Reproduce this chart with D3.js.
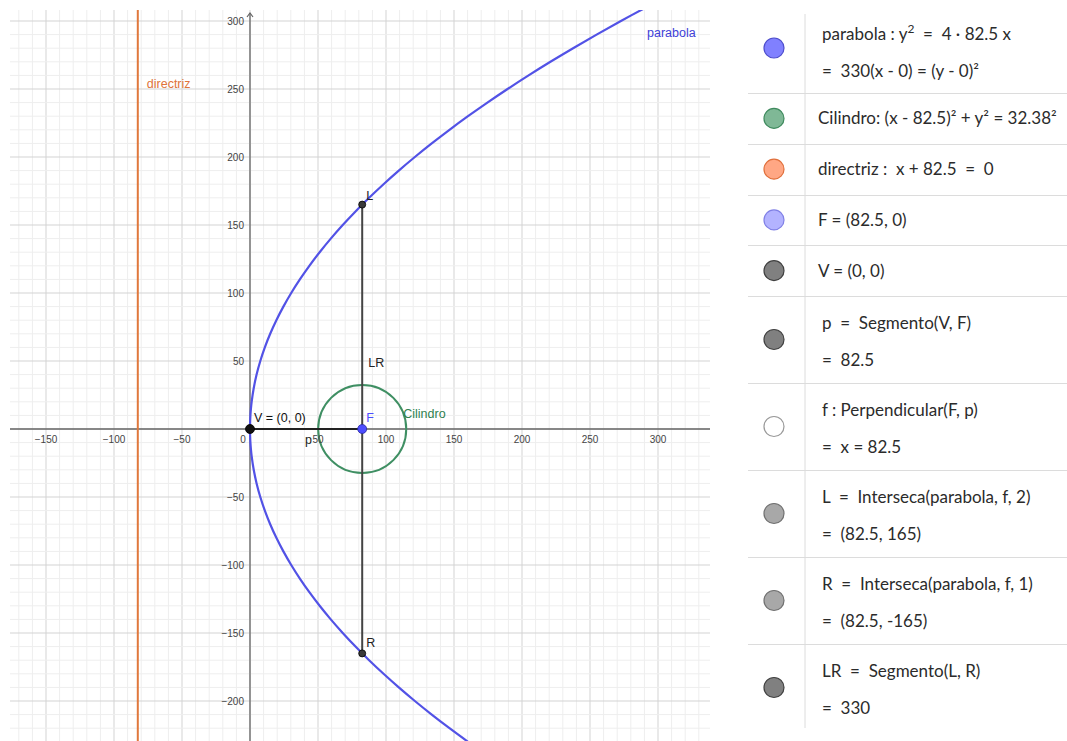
<!DOCTYPE html>
<html>
<head>
<meta charset="utf-8">
<script src="https://cdn.jsdelivr.net/npm/d3@7"></script>
<style>
  body { margin: 0; background: #fff; }
  svg { display: block; }
  .tick-label { font-family: "Liberation Sans", Arial, sans-serif; font-size: 10px; fill: #444; }
  .obj-label { font-family: "Liberation Sans", Arial, sans-serif; font-size: 12.5px; }
  .alg { font-family: "Lato", "DejaVu Sans", sans-serif; font-size: 17px; fill: #2b2b2b; }
</style>
</head>
<body>
<svg id="chart" width="1067" height="741"></svg>
<script>
// Construction values
const focal = 82.5;            // p
const cylinderRadius = 32.38;
const xTicks = [-150, -100, -50, 0, 50, 100, 150, 200, 250, 300];
const yTicks = [-200, -150, -100, -50, 50, 100, 150, 200, 250, 300];
const parabolaYs = [-230, -220, -210, -200, -190, -180, -170, -160, -150, -140, -130, -120, -110, -100,
  -90, -80, -70, -60, -50, -40, -30, -20, -15, -10, -6, -3, 0, 3, 6, 10, 15, 20, 30, 40, 50, 60, 70, 80, 90,
  100, 110, 120, 130, 140, 150, 160, 170, 180, 190, 200, 210, 220, 230, 240, 250, 260, 270, 280, 290, 300, 310];

// Algebra view rows: colour dot + text lines (\u00a0 keeps the wide spacing round "=")
// a "^" marks a raised exponent: text before it, exponent, text after it
const S = '\u00a0';
const algebraRows = [
  { fill: '#8080ff', stroke: '#4d4dcc', lines: [`parabola : y^2^${S}${S}=${S}${S}4 · 82.5 x`, `=${S}${S}330(x - 0) = (y - 0)²`] },
  { fill: '#7fb896', stroke: '#3f8a5e', lines: ['Cilindro: (x - 82.5)² + y² = 32.38²'] },
  { fill: '#ffa784', stroke: '#e0703c', lines: [`directriz :${S}${S}x + 82.5${S}${S}=${S}${S}0`] },
  { fill: '#b3b3ff', stroke: '#8080e6', lines: ['F = (82.5, 0)'] },
  { fill: '#808080', stroke: '#404040', lines: ['V = (0, 0)'] },
  { fill: '#808080', stroke: '#404040', lines: [`p${S}${S}=${S}${S}Segmento(V, F)`, `=${S}${S}82.5`] },
  { fill: '#ffffff', stroke: '#999999', lines: ['f : Perpendicular(F, p)', `=${S}${S}x = 82.5`] },
  { fill: '#a8a8a8', stroke: '#707070', lines: [`L${S}${S}=${S}${S}Interseca(parabola, f, 2)`, `=${S}${S}(82.5, 165)`] },
  { fill: '#a8a8a8', stroke: '#707070', lines: [`R${S}${S}=${S}${S}Interseca(parabola, f, 1)`, `=${S}${S}(82.5, -165)`] },
  { fill: '#808080', stroke: '#404040', lines: [`LR${S}${S}=${S}${S}Segmento(L, R)`, `=${S}${S}330`] }
];

const svg = d3.select('#chart');

// Graphics view
const view = { left: 10, top: 10, right: 710, bottom: 741 };
const unit = 1.36;
const x0 = 250, y0 = 429;
const x = d3.scaleLinear()
  .domain([(view.left - x0) / unit, (view.right - x0) / unit])
  .range([view.left, view.right]);
const y = d3.scaleLinear()
  .domain([(y0 - view.bottom) / unit, (y0 - view.top) / unit])
  .range([view.bottom, view.top]);

svg.append('defs').append('clipPath').attr('id', 'clip')
  .append('rect')
  .attr('x', view.left).attr('y', view.top)
  .attr('width', view.right - view.left).attr('height', view.bottom - view.top);

const g = svg.append('g').attr('clip-path', 'url(#clip)');

// grid
const minorX = d3.range(Math.ceil(x.domain()[0] / 10) * 10, x.domain()[1], 10);
const minorY = d3.range(Math.ceil(y.domain()[0] / 10) * 10, y.domain()[1], 10);
g.selectAll('.gx').data(minorX).enter().append('line')
  .attr('x1', d => x(d)).attr('x2', d => x(d))
  .attr('y1', view.top).attr('y2', view.bottom)
  .attr('stroke', d => d % 50 === 0 ? '#d3d3d3' : '#eeeeee')
  .attr('stroke-width', 1);
g.selectAll('.gy').data(minorY).enter().append('line')
  .attr('y1', d => y(d)).attr('y2', d => y(d))
  .attr('x1', view.left).attr('x2', view.right)
  .attr('stroke', d => d % 50 === 0 ? '#d3d3d3' : '#eeeeee')
  .attr('stroke-width', 1);

// axes
g.append('line').attr('x1', view.left).attr('x2', view.right)
  .attr('y1', y(0)).attr('y2', y(0)).attr('stroke', '#666').attr('stroke-width', 1.3);
g.append('line').attr('x1', x(0)).attr('x2', x(0))
  .attr('y1', view.top + 3).attr('y2', view.bottom).attr('stroke', '#666').attr('stroke-width', 1.3);
g.append('path')
  .attr('d', `M${x(0) - 3},${view.top + 7} L${x(0)},${view.top + 3} L${x(0) + 3},${view.top + 7}`)
  .attr('fill', 'none').attr('stroke', '#666').attr('stroke-width', 1.2);

svg.selectAll('.xt').data(xTicks).enter().append('text')
  .attr('class', 'tick-label')
  .attr('x', d => d === 0 ? x(d) - 7 : x(d))
  .attr('y', y(0) + 14)
  .attr('text-anchor', 'middle')
  .text(d => d < 0 ? '\u2212' + Math.abs(d) : d);
svg.selectAll('.yt').data(yTicks).enter().append('text')
  .attr('class', 'tick-label')
  .attr('x', x(0) - 6)
  .attr('y', d => y(d) + 4)
  .attr('text-anchor', 'end')
  .text(d => d < 0 ? '\u2212' + Math.abs(d) : d);

// directrix
g.append('line').attr('x1', x(-focal)).attr('x2', x(-focal))
  .attr('y1', view.top).attr('y2', view.bottom)
  .attr('stroke', '#e0783c').attr('stroke-width', 2);

// parabola y^2 = 4 p x
const parabola = d3.line()
  .x(d => x(d * d / (4 * focal)))
  .y(d => y(d))
  .curve(d3.curveCatmullRom);
g.append('path').datum(parabolaYs)
  .attr('d', parabola)
  .attr('fill', 'none').attr('stroke', '#5252e6').attr('stroke-width', 2.2);

// cylinder circle
g.append('circle')
  .attr('cx', x(focal)).attr('cy', y(0))
  .attr('r', x(cylinderRadius) - x(0))
  .attr('fill', 'none').attr('stroke', '#3f8f63').attr('stroke-width', 2);

// latus rectum and p segment
const lr = 2 * focal;
g.append('line').attr('x1', x(focal)).attr('x2', x(focal))
  .attr('y1', y(lr)).attr('y2', y(-lr)).attr('stroke', '#444').attr('stroke-width', 2);
g.append('line').attr('x1', x(0)).attr('x2', x(focal))
  .attr('y1', y(0)).attr('y2', y(0)).attr('stroke', '#222').attr('stroke-width', 2);

// points
const pts = [
  { px: 0, py: 0, r: 4.5, fill: '#111' },
  { px: focal, py: 0, r: 4.5, fill: '#4d4dff' },
  { px: focal, py: lr, r: 3.5, fill: '#3a3a3a' },
  { px: focal, py: -lr, r: 3.5, fill: '#3a3a3a' }
];
g.selectAll('.pt').data(pts).enter().append('circle')
  .attr('cx', d => x(d.px)).attr('cy', d => y(d.py)).attr('r', d => d.r)
  .attr('fill', d => d.fill).attr('stroke', d => d.fill === '#4d4dff' ? '#2a2aa0' : '#000').attr('stroke-width', 0.8);

// object labels
const labels = [
  { t: 'parabola', lx: 250, ly: 300, dx: 57, dy: 16, c: '#4040d8' },
  { t: 'directriz', lx: -focal, ly: 250, dx: 9, dy: -1.5, c: '#e0743a' },
  { t: 'Cilindro', lx: focal + cylinderRadius, ly: 0, dx: -3, dy: -11, c: '#2f7f50' },
  { t: 'V = (0, 0)', lx: 0, ly: 0, dx: 4, dy: -7, c: '#111' },
  { t: 'F', lx: focal, ly: 0, dx: 4, dy: -7, c: '#4d4dff' },
  { t: 'LR', lx: focal, ly: 0, dx: 6, dy: -62, c: '#222' },
  { t: 'L', lx: focal, ly: lr, dx: 4, dy: -5, c: '#222' },
  { t: 'R', lx: focal, ly: -lr, dx: 4, dy: -6, c: '#222' },
  { t: 'p', lx: 0, ly: 0, dx: 55, dy: 15, c: '#222' }
];
svg.selectAll('.ol').data(labels).enter().append('text')
  .attr('class', 'obj-label')
  .attr('x', d => x(d.lx) + d.dx).attr('y', d => y(d.ly) + d.dy)
  .attr('fill', d => d.c)
  .text(d => d.t);

// Algebra view
const panel = svg.append('g');
const rowHeights = algebraRows.map((r, i) => i === 0 ? 88 : (r.lines.length === 2 ? 87 : 50.75));
let rowCursor = 5;
const rowTops = rowHeights.map(h => { const t = rowCursor; rowCursor += h; return t; });

panel.append('line').attr('x1', 805).attr('x2', 805)
  .attr('y1', 14).attr('y2', 728).attr('stroke', '#dcdcdc');

function writeLine(tx, ty, str) {
  const text = panel.append('text').attr('class', 'alg').attr('x', tx).attr('y', ty);
  const parts = str.split('^');
  if (parts.length === 3) {
    text.append('tspan').text(parts[0]);
    text.append('tspan').attr('dy', -7).attr('font-size', 12).text(parts[1]);
    text.append('tspan').attr('dy', 7).text(parts[2]);
  } else {
    text.text(str);
  }
}

algebraRows.forEach((row, i) => {
  const t = rowTops[i], h = rowHeights[i];
  const bottom = t + h;
  if (i < algebraRows.length - 1) {
    panel.append('line').attr('x1', 748).attr('x2', 1067)
      .attr('y1', Math.round(bottom) + 0.5).attr('y2', Math.round(bottom) + 0.5).attr('stroke', '#dcdcdc');
  }
  const cy = i === 0 ? 48 : t + h / 2;
  panel.append('circle').attr('cx', 774).attr('cy', cy).attr('r', 10)
    .attr('fill', row.fill).attr('stroke', row.stroke).attr('stroke-width', 1.2);
  if (row.lines.length === 1) {
    writeLine(818, cy + 6, row.lines[0]);
  } else {
    const up = i === 0 ? 8 : 11, down = i === 0 ? 29 : 26;
    writeLine(822, cy - up, row.lines[0]);
    writeLine(822, cy + down, row.lines[1]);
  }
});
</script>
</body>
</html>
